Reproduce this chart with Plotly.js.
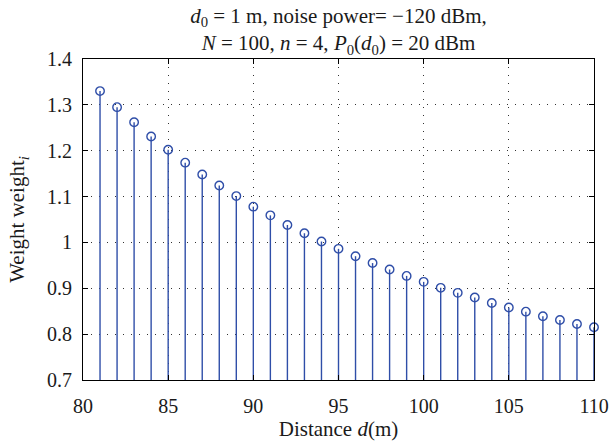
<!DOCTYPE html>
<html>
<head>
<meta charset="utf-8">
<script src="https://cdn.plot.ly/plotly-3.0.1.min.js"></script>
<style>html,body{margin:0;padding:0;background:#fff;}#chart{width:610px;height:441px;}</style>
</head>
<body>
<div id="chart"></div>
<script>
const distance = [81,82,83,84,85,86,87,88,89,90,91,92,93,94,95,96,97,98,99,100,101,102,103,104,105,106,107,108,109,110];
const weight = [1.330,1.295,1.262,1.231,1.202,1.174,1.148,1.124,1.101,1.078,1.059,1.038,1.020,1.002,0.986,0.970,0.955,0.941,0.927,0.914,0.901,0.890,0.880,0.868,0.858,0.849,0.839,0.831,0.822,0.815];
const xTicks = [80,85,90,95,100,105,110];
const yTicks = [0.7,0.8,0.9,1.0,1.1,1.2,1.3,1.4];
const yTickText = ['0.7','0.8','0.9','1','1.1','1.2','1.3','1.4'];
const yBase = 0.7;

const blue = '#2F4EA8';
const font = 'Liberation Serif, Times New Roman, serif';
const txt = '#1a1a1a';

// stems drawn as downward error bars from each value to the axis base
const stems = {
  type: 'scatter', mode: 'markers', x: distance, y: weight,
  marker: {symbol: 'circle-open', size: 8.5, color: blue, line: {width: 1.4, color: blue}},
  error_y: {type: 'data', symmetric: false, array: weight.map(() => 0),
            arrayminus: weight.map(v => v - yBase), width: 0, thickness: 1.4, color: blue},
  showlegend: false, cliponaxis: false, hoverinfo: 'skip'
};
const axisCommon = {
  showline: true, linecolor: '#000', linewidth: 1, mirror: 'ticks',
  ticks: 'inside', ticklen: 5, tickcolor: '#000',
  showgrid: true, gridcolor: '#333', gridwidth: 1, griddash: '1px,7px',
  zeroline: false, tickfont: {family: font, size: 20, color: txt}
};
const layout = {
  width: 610, height: 441,
  margin: {l: 83, r: 16, t: 59, b: 61},
  paper_bgcolor: '#fff', plot_bgcolor: '#fff',
  font: {family: font, color: txt},
  title: {
    text: '<i>d</i><sub>0</sub> = 1 m, noise power= −120 dBm,<br><i>N</i> = 100, <i>n</i> = 4, <i>P</i><sub>0</sub>(<i>d</i><sub>0</sub>) = 20 dBm',
    font: {family: font, size: 21, color: txt},
    xref: 'paper', x: 0.5, xanchor: 'center',
    yref: 'paper', y: 1, yanchor: 'bottom', pad: {b: 36}
  },
  xaxis: Object.assign({}, axisCommon, {
    range: [80, 110], tickvals: xTicks, ticklabelstandoff: 8,
    title: {text: 'Distance <i>d</i>(m)', font: {family: font, size: 21, color: txt}, standoff: 5}
  }),
  yaxis: Object.assign({}, axisCommon, {
    range: [0.7, 1.4], tickvals: yTicks, ticktext: yTickText, ticklabelstandoff: 6,
    title: {text: 'Weight weight<sub><i>i</i></sub>', font: {family: font, size: 21, color: txt}, standoff: 16}
  })
};
Plotly.newPlot('chart', [stems], layout, {displayModeBar: false, staticPlot: true});
</script>
</body>
</html>
